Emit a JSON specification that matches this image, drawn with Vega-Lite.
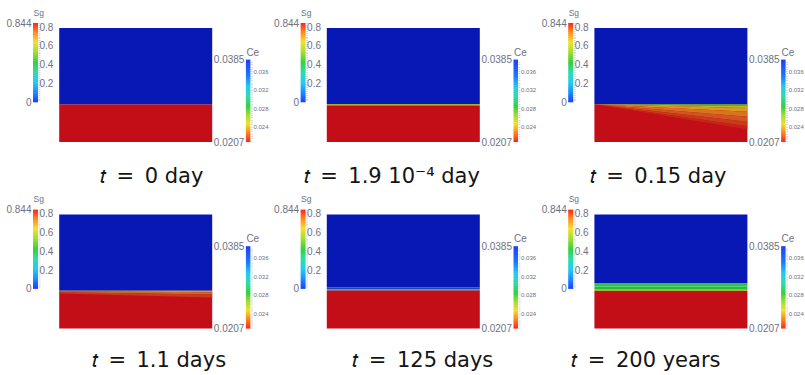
{
"$schema": "https://vega.github.io/schema/vega-lite/v6.json",
"padding": {"left": 4, "top": 8, "right": 0, "bottom": 0},
"config": {
  "view": {"stroke": null},
  "font": "Liberation Sans",
  "axis": {"labelColor": "#6e7182", "titleColor": "#6e7182", "labelFont": "Liberation Sans", "titleFont": "Liberation Sans", "titleFontWeight": "normal", "labelOverlap": false, "labelFlush": false, "labelBound": false, "grid": false, "domain": false},
  "title": {"orient": "bottom", "anchor": "middle", "baseline": "alphabetic", "fontSize": 21, "font": "DejaVu Sans", "fontWeight": "normal", "color": "#141414"}
},
"datasets": {
  "sg": [{"lo": 0, "hi": 0.844}],
  "ce": [{"lo": 0.0207, "hi": 0.0385}],
  "cells": [
    {"p":1,"s":"gas","x0":0,"x1":1,"y0":0,"y1":0.332},
    {"p":1,"s":"brine","x0":0,"x1":1,"y0":0.332,"y1":1},
    {"p":2,"s":"gas","x0":0,"x1":1,"y0":0,"y1":0.323},
    {"p":2,"s":"p2line","x0":0,"x1":1,"y0":0.323,"y1":0.333},
    {"p":2,"s":"brine","x0":0,"x1":1,"y0":0.333,"y1":1},
    {"p":3,"s":"gas","x0":0,"x1":1,"y0":0,"y1":0.332},
    {"p":3,"s":"brine","x0":0,"x1":1,"y0":0.332,"y1":1},
    {"p":4,"s":"gas","x0":0,"x1":1,"y0":0,"y1":0.333},
    {"p":4,"s":"brine","x0":0,"x1":1,"y0":0.333,"y1":1},
    {"p":5,"s":"gas","x0":0,"x1":1,"y0":0,"y1":0.336},
    {"p":5,"s":"p5line","x0":0,"x1":1,"y0":0.336,"y1":0.345},
    {"p":5,"s":"p5blue","x0":0,"x1":1,"y0":0.345,"y1":0.36},
    {"p":5,"s":"brine","x0":0,"x1":1,"y0":0.36,"y1":1},
    {"p":6,"s":"gas","x0":0,"x1":1,"y0":0,"y1":0.33},
    {"p":6,"s":"p6line","x0":0,"x1":1,"y0":0.33,"y1":0.342},
    {"p":6,"s":"p6g2","x0":0,"x1":1,"y0":0.342,"y1":0.37},
    {"p":6,"s":"p6g1","x0":0,"x1":1,"y0":0.37,"y1":0.397},
    {"p":6,"s":"brine","x0":0,"x1":1,"y0":0.397,"y1":1}
  ],
  "bands": [
    {"p":3,"s":"b31","x":0,"ya":0.332,"yb":0.332},{"p":3,"s":"b31","x":1,"ya":0.332,"yb":0.3166},
    {"p":3,"s":"b32","x":0,"ya":0.332,"yb":0.332},{"p":3,"s":"b32","x":1,"ya":0.3166,"yb":0.299},
    {"p":3,"s":"b33","x":0,"ya":0.332,"yb":0.332},{"p":3,"s":"b33","x":1,"ya":0.299,"yb":0.266},
    {"p":3,"s":"b34","x":0,"ya":0.332,"yb":0.332},{"p":3,"s":"b34","x":1,"ya":0.266,"yb":0.222},
    {"p":3,"s":"b35","x":0,"ya":0.332,"yb":0.332},{"p":3,"s":"b35","x":1,"ya":0.222,"yb":0.178},
    {"p":3,"s":"b36","x":0,"ya":0.332,"yb":0.332},{"p":3,"s":"b36","x":1,"ya":0.178,"yb":0.1384},
    {"p":3,"s":"b37","x":0,"ya":0.332,"yb":0.332},{"p":3,"s":"b37","x":1,"ya":0.1384,"yb":0.112},
    {"p":4,"s":"b41","x":0,"ya":0.333,"yb":0.327},{"p":4,"s":"b41","x":1,"ya":0.333,"yb":0.318},
    {"p":4,"s":"b42","x":0,"ya":0.327,"yb":0.319},{"p":4,"s":"b42","x":1,"ya":0.318,"yb":0.3},
    {"p":4,"s":"b43","x":0,"ya":0.319,"yb":0.308},{"p":4,"s":"b43","x":1,"ya":0.3,"yb":0.273}
  ]
},
"columns": 9,
"spacing": {"row": 67.6, "column": 21.2},
"bounds": "flush",
"align": "each",
"concat": [
  {"width":34,"height":119,"data":{"name":"sg"},"layer":[
    {"mark":{"type":"rect","fill":{"gradient":"linear","x1":0,"y1":1,"x2":0,"y2":0,"stops":[{"offset":0,"color":"#1e3cff"},{"offset":0.12,"color":"#1a8cff"},{"offset":0.25,"color":"#22ccf2"},{"offset":0.38,"color":"#2edca8"},{"offset":0.5,"color":"#35d040"},{"offset":0.64,"color":"#a8de30"},{"offset":0.76,"color":"#f2e22a"},{"offset":0.88,"color":"#ff8e1e"},{"offset":1,"color":"#ff2418"}]}},
     "encoding":{"x":{"datum":0,"type":"quantitative","scale":{"domain":[-5.8,1],"nice":false,"zero":false},"axis":null},"x2":{"datum":1},"y":{"field":"lo","type":"quantitative","scale":{"domain":[-0.4226,0.844],"nice":false,"zero":false},"axis":{"orient":"left","offset":-29,"values":[0,0.844],"format":".3~f","ticks":false,"labelPadding":2,"labelFontSize":10,"title":"Sg","titleAngle":0,"titleX":0,"titleY":-7.7,"titleAlign":"left","titleBaseline":"alphabetic","titleFontSize":8.5}},"y2":{"field":"hi"}}},
    {"mark":{"type":"rect","opacity":0},
     "encoding":{"x":{"datum":0,"type":"quantitative","axis":null},"x2":{"datum":1},"y":{"field":"lo","type":"quantitative","axis":{"orient":"right","values":[0.02,0.04,0.06,0.08,0.1,0.12,0.14,0.16,0.18,0.2,0.22,0.24,0.26,0.28,0.3,0.32,0.34,0.36,0.38,0.4,0.42,0.44,0.46,0.48,0.5,0.52,0.54,0.56,0.58,0.6,0.62,0.64,0.66,0.68,0.7,0.72,0.74,0.76,0.78,0.8,0.82,0.84],"labelExpr":"abs(datum.value*5-round(datum.value*5))<0.001 ? format(datum.value,'.1f') : ''","tickSize":2,"tickColor":"#c4c6d0","tickWidth":0.7,"labelPadding":-1,"labelFontSize":10,"title":null}},"y2":{"field":"hi"}}}
  ],"resolve":{"axis":{"y":"independent"}}},
  {"width":153,"height":119,
   "title":{"text":"𝑡\u2002=\u20020 day","dx":16,"offset":24.3},
   "layer":[
    {"data":{"name":"cells"},"transform":[{"filter":"datum.p==1"}],"mark":{"type":"rect"},
     "encoding":{"x":{"field":"x0","type":"quantitative","scale":{"domain":[0,1],"nice":false,"zero":false},"axis":null},"x2":{"field":"x1"},"y":{"field":"y0","type":"quantitative","scale":{"domain":[0,1.0439],"nice":false,"zero":false},"axis":null},"y2":{"field":"y1"},
      "color":{"field":"s","type":"nominal","legend":null,"scale":{"domain":["gas","brine","p2line","p5line","p5blue","p6line","p6g2","p6g1","b31","b32","b33","b34","b35","b36","b37","b41","b42","b43"],"range":["#c30d17","#0818b4","#a6b02c","#2fa88c","#1a46c6","#a2b428","#22bb3a","#2cc64a","#4cb82e","#bcb828","#d89a24","#d87420","#d05520","#c93a1c","#c52518","#c8a028","#d06a20","#c83a1a"]}}}}
   ]},
  {"width":17,"height":119,"data":{"name":"ce"},"layer":[
    {"mark":{"type":"rect","fill":{"gradient":"linear","x1":0,"y1":1,"x2":0,"y2":0,"stops":[{"offset":0,"color":"#ff2418"},{"offset":0.1,"color":"#ff7a1e"},{"offset":0.22,"color":"#f2e02a"},{"offset":0.32,"color":"#a8de30"},{"offset":0.43,"color":"#35d040"},{"offset":0.55,"color":"#2edca8"},{"offset":0.67,"color":"#22ccf2"},{"offset":0.8,"color":"#1a7cff"},{"offset":1,"color":"#1e3cff"}]}},
     "encoding":{"x":{"datum":0,"type":"quantitative","scale":{"domain":[-2.778,1],"nice":false,"zero":false},"axis":null},"x2":{"datum":1},"y":{"field":"lo","type":"quantitative","scale":{"domain":[0.0207,0.0464],"nice":false,"zero":false},"axis":{"orient":"left","offset":-12.5,"values":[0.0207,0.0385],"format":".4f","ticks":false,"labelPadding":2,"labelFontSize":10,"title":"Ce","titleAngle":0,"titleX":0,"titleY":32.3,"titleAlign":"left","titleBaseline":"alphabetic","titleFontSize":10}},"y2":{"field":"hi"}}},
    {"mark":{"type":"rect","opacity":0},
     "encoding":{"x":{"datum":0,"type":"quantitative","axis":null},"x2":{"datum":1},"y":{"field":"lo","type":"quantitative","axis":{"orient":"right","values":[0.021,0.0215,0.022,0.0225,0.023,0.0235,0.024,0.0245,0.025,0.0255,0.026,0.0265,0.027,0.0275,0.028,0.0285,0.029,0.0295,0.03,0.0305,0.031,0.0315,0.032,0.0325,0.033,0.0335,0.034,0.0345,0.035,0.0355,0.036,0.0365,0.037,0.0375,0.038],"labelExpr":"abs(datum.value*250-round(datum.value*250))<0.01 ? format(datum.value,'.3f') : ''","tickSize":2,"tickColor":"#c4c6d0","tickWidth":0.7,"labelPadding":0.6,"labelFontSize":6,"title":null}},"y2":{"field":"hi"}}}
  ],"resolve":{"axis":{"y":"independent"}}},

  {"width":34,"height":119,"data":{"name":"sg"},"layer":[
    {"mark":{"type":"rect","fill":{"gradient":"linear","x1":0,"y1":1,"x2":0,"y2":0,"stops":[{"offset":0,"color":"#1e3cff"},{"offset":0.12,"color":"#1a8cff"},{"offset":0.25,"color":"#22ccf2"},{"offset":0.38,"color":"#2edca8"},{"offset":0.5,"color":"#35d040"},{"offset":0.64,"color":"#a8de30"},{"offset":0.76,"color":"#f2e22a"},{"offset":0.88,"color":"#ff8e1e"},{"offset":1,"color":"#ff2418"}]}},
     "encoding":{"x":{"datum":0,"type":"quantitative","scale":{"domain":[-5.8,1],"nice":false,"zero":false},"axis":null},"x2":{"datum":1},"y":{"field":"lo","type":"quantitative","scale":{"domain":[-0.4226,0.844],"nice":false,"zero":false},"axis":{"orient":"left","offset":-29,"values":[0,0.844],"format":".3~f","ticks":false,"labelPadding":2,"labelFontSize":10,"title":"Sg","titleAngle":0,"titleX":0,"titleY":-7.7,"titleAlign":"left","titleBaseline":"alphabetic","titleFontSize":8.5}},"y2":{"field":"hi"}}},
    {"mark":{"type":"rect","opacity":0},
     "encoding":{"x":{"datum":0,"type":"quantitative","axis":null},"x2":{"datum":1},"y":{"field":"lo","type":"quantitative","axis":{"orient":"right","values":[0.02,0.04,0.06,0.08,0.1,0.12,0.14,0.16,0.18,0.2,0.22,0.24,0.26,0.28,0.3,0.32,0.34,0.36,0.38,0.4,0.42,0.44,0.46,0.48,0.5,0.52,0.54,0.56,0.58,0.6,0.62,0.64,0.66,0.68,0.7,0.72,0.74,0.76,0.78,0.8,0.82,0.84],"labelExpr":"abs(datum.value*5-round(datum.value*5))<0.001 ? format(datum.value,'.1f') : ''","tickSize":2,"tickColor":"#c4c6d0","tickWidth":0.7,"labelPadding":-1,"labelFontSize":10,"title":null}},"y2":{"field":"hi"}}}
  ],"resolve":{"axis":{"y":"independent"}}},
  {"width":153,"height":119,
   "title":{"text":"𝑡\u2002=\u20021.9 10⁻⁴ day","dx":-11.5,"offset":24.3},
   "layer":[
    {"data":{"name":"cells"},"transform":[{"filter":"datum.p==2"}],"mark":{"type":"rect"},
     "encoding":{"x":{"field":"x0","type":"quantitative","scale":{"domain":[0,1],"nice":false,"zero":false},"axis":null},"x2":{"field":"x1"},"y":{"field":"y0","type":"quantitative","scale":{"domain":[0,1.0439],"nice":false,"zero":false},"axis":null},"y2":{"field":"y1"},
      "color":{"field":"s","type":"nominal","legend":null,"scale":{"domain":["gas","brine","p2line","p5line","p5blue","p6line","p6g2","p6g1","b31","b32","b33","b34","b35","b36","b37","b41","b42","b43"],"range":["#c30d17","#0818b4","#a6b02c","#2fa88c","#1a46c6","#a2b428","#22bb3a","#2cc64a","#4cb82e","#bcb828","#d89a24","#d87420","#d05520","#c93a1c","#c52518","#c8a028","#d06a20","#c83a1a"]}}}}
   ]},
  {"width":17,"height":119,"data":{"name":"ce"},"layer":[
    {"mark":{"type":"rect","fill":{"gradient":"linear","x1":0,"y1":1,"x2":0,"y2":0,"stops":[{"offset":0,"color":"#ff2418"},{"offset":0.1,"color":"#ff7a1e"},{"offset":0.22,"color":"#f2e02a"},{"offset":0.32,"color":"#a8de30"},{"offset":0.43,"color":"#35d040"},{"offset":0.55,"color":"#2edca8"},{"offset":0.67,"color":"#22ccf2"},{"offset":0.8,"color":"#1a7cff"},{"offset":1,"color":"#1e3cff"}]}},
     "encoding":{"x":{"datum":0,"type":"quantitative","scale":{"domain":[-2.778,1],"nice":false,"zero":false},"axis":null},"x2":{"datum":1},"y":{"field":"lo","type":"quantitative","scale":{"domain":[0.0207,0.0464],"nice":false,"zero":false},"axis":{"orient":"left","offset":-12.5,"values":[0.0207,0.0385],"format":".4f","ticks":false,"labelPadding":2,"labelFontSize":10,"title":"Ce","titleAngle":0,"titleX":0,"titleY":32.3,"titleAlign":"left","titleBaseline":"alphabetic","titleFontSize":10}},"y2":{"field":"hi"}}},
    {"mark":{"type":"rect","opacity":0},
     "encoding":{"x":{"datum":0,"type":"quantitative","axis":null},"x2":{"datum":1},"y":{"field":"lo","type":"quantitative","axis":{"orient":"right","values":[0.021,0.0215,0.022,0.0225,0.023,0.0235,0.024,0.0245,0.025,0.0255,0.026,0.0265,0.027,0.0275,0.028,0.0285,0.029,0.0295,0.03,0.0305,0.031,0.0315,0.032,0.0325,0.033,0.0335,0.034,0.0345,0.035,0.0355,0.036,0.0365,0.037,0.0375,0.038],"labelExpr":"abs(datum.value*250-round(datum.value*250))<0.01 ? format(datum.value,'.3f') : ''","tickSize":2,"tickColor":"#c4c6d0","tickWidth":0.7,"labelPadding":0.6,"labelFontSize":6,"title":null}},"y2":{"field":"hi"}}}
  ],"resolve":{"axis":{"y":"independent"}}},

  {"width":34,"height":119,"data":{"name":"sg"},"layer":[
    {"mark":{"type":"rect","fill":{"gradient":"linear","x1":0,"y1":1,"x2":0,"y2":0,"stops":[{"offset":0,"color":"#1e3cff"},{"offset":0.12,"color":"#1a8cff"},{"offset":0.25,"color":"#22ccf2"},{"offset":0.38,"color":"#2edca8"},{"offset":0.5,"color":"#35d040"},{"offset":0.64,"color":"#a8de30"},{"offset":0.76,"color":"#f2e22a"},{"offset":0.88,"color":"#ff8e1e"},{"offset":1,"color":"#ff2418"}]}},
     "encoding":{"x":{"datum":0,"type":"quantitative","scale":{"domain":[-5.8,1],"nice":false,"zero":false},"axis":null},"x2":{"datum":1},"y":{"field":"lo","type":"quantitative","scale":{"domain":[-0.4226,0.844],"nice":false,"zero":false},"axis":{"orient":"left","offset":-29,"values":[0,0.844],"format":".3~f","ticks":false,"labelPadding":2,"labelFontSize":10,"title":"Sg","titleAngle":0,"titleX":0,"titleY":-7.7,"titleAlign":"left","titleBaseline":"alphabetic","titleFontSize":8.5}},"y2":{"field":"hi"}}},
    {"mark":{"type":"rect","opacity":0},
     "encoding":{"x":{"datum":0,"type":"quantitative","axis":null},"x2":{"datum":1},"y":{"field":"lo","type":"quantitative","axis":{"orient":"right","values":[0.02,0.04,0.06,0.08,0.1,0.12,0.14,0.16,0.18,0.2,0.22,0.24,0.26,0.28,0.3,0.32,0.34,0.36,0.38,0.4,0.42,0.44,0.46,0.48,0.5,0.52,0.54,0.56,0.58,0.6,0.62,0.64,0.66,0.68,0.7,0.72,0.74,0.76,0.78,0.8,0.82,0.84],"labelExpr":"abs(datum.value*5-round(datum.value*5))<0.001 ? format(datum.value,'.1f') : ''","tickSize":2,"tickColor":"#c4c6d0","tickWidth":0.7,"labelPadding":-1,"labelFontSize":10,"title":null}},"y2":{"field":"hi"}}}
  ],"resolve":{"axis":{"y":"independent"}}},
  {"width":153,"height":119,
   "title":{"text":"𝑡\u2002=\u20020.15 day","dx":-12.8,"offset":24.3},
   "layer":[
    {"data":{"name":"cells"},"transform":[{"filter":"datum.p==3"}],"mark":{"type":"rect"},
     "encoding":{"x":{"field":"x0","type":"quantitative","scale":{"domain":[0,1],"nice":false,"zero":false},"axis":null},"x2":{"field":"x1"},"y":{"field":"y0","type":"quantitative","scale":{"domain":[0,1.0439],"nice":false,"zero":false},"axis":null},"y2":{"field":"y1"},
      "color":{"field":"s","type":"nominal","legend":null,"scale":{"domain":["gas","brine","p2line","p5line","p5blue","p6line","p6g2","p6g1","b31","b32","b33","b34","b35","b36","b37","b41","b42","b43"],"range":["#c30d17","#0818b4","#a6b02c","#2fa88c","#1a46c6","#a2b428","#22bb3a","#2cc64a","#4cb82e","#bcb828","#d89a24","#d87420","#d05520","#c93a1c","#c52518","#c8a028","#d06a20","#c83a1a"]}}}},
    {"data":{"name":"bands"},"transform":[{"filter":"datum.p==3"}],"mark":{"type":"area","opacity":1},
     "encoding":{"x":{"field":"x","type":"quantitative","axis":null},"y":{"field":"ya","type":"quantitative","axis":null,"stack":null},"y2":{"field":"yb"},
      "color":{"field":"s","type":"nominal","legend":null,"scale":{"domain":["gas","brine","p2line","p5line","p5blue","p6line","p6g2","p6g1","b31","b32","b33","b34","b35","b36","b37","b41","b42","b43"],"range":["#c30d17","#0818b4","#a6b02c","#2fa88c","#1a46c6","#a2b428","#22bb3a","#2cc64a","#4cb82e","#bcb828","#d89a24","#d87420","#d05520","#c93a1c","#c52518","#c8a028","#d06a20","#c83a1a"]}}}}
   ]},
  {"width":17,"height":119,"data":{"name":"ce"},"layer":[
    {"mark":{"type":"rect","fill":{"gradient":"linear","x1":0,"y1":1,"x2":0,"y2":0,"stops":[{"offset":0,"color":"#ff2418"},{"offset":0.1,"color":"#ff7a1e"},{"offset":0.22,"color":"#f2e02a"},{"offset":0.32,"color":"#a8de30"},{"offset":0.43,"color":"#35d040"},{"offset":0.55,"color":"#2edca8"},{"offset":0.67,"color":"#22ccf2"},{"offset":0.8,"color":"#1a7cff"},{"offset":1,"color":"#1e3cff"}]}},
     "encoding":{"x":{"datum":0,"type":"quantitative","scale":{"domain":[-2.778,1],"nice":false,"zero":false},"axis":null},"x2":{"datum":1},"y":{"field":"lo","type":"quantitative","scale":{"domain":[0.0207,0.0464],"nice":false,"zero":false},"axis":{"orient":"left","offset":-12.5,"values":[0.0207,0.0385],"format":".4f","ticks":false,"labelPadding":2,"labelFontSize":10,"title":"Ce","titleAngle":0,"titleX":0,"titleY":32.3,"titleAlign":"left","titleBaseline":"alphabetic","titleFontSize":10}},"y2":{"field":"hi"}}},
    {"mark":{"type":"rect","opacity":0},
     "encoding":{"x":{"datum":0,"type":"quantitative","axis":null},"x2":{"datum":1},"y":{"field":"lo","type":"quantitative","axis":{"orient":"right","values":[0.021,0.0215,0.022,0.0225,0.023,0.0235,0.024,0.0245,0.025,0.0255,0.026,0.0265,0.027,0.0275,0.028,0.0285,0.029,0.0295,0.03,0.0305,0.031,0.0315,0.032,0.0325,0.033,0.0335,0.034,0.0345,0.035,0.0355,0.036,0.0365,0.037,0.0375,0.038],"labelExpr":"abs(datum.value*250-round(datum.value*250))<0.01 ? format(datum.value,'.3f') : ''","tickSize":2,"tickColor":"#c4c6d0","tickWidth":0.7,"labelPadding":0.6,"labelFontSize":6,"title":null}},"y2":{"field":"hi"}}}
  ],"resolve":{"axis":{"y":"independent"}}},

  {"width":34,"height":119,"data":{"name":"sg"},"layer":[
    {"mark":{"type":"rect","fill":{"gradient":"linear","x1":0,"y1":1,"x2":0,"y2":0,"stops":[{"offset":0,"color":"#1e3cff"},{"offset":0.12,"color":"#1a8cff"},{"offset":0.25,"color":"#22ccf2"},{"offset":0.38,"color":"#2edca8"},{"offset":0.5,"color":"#35d040"},{"offset":0.64,"color":"#a8de30"},{"offset":0.76,"color":"#f2e22a"},{"offset":0.88,"color":"#ff8e1e"},{"offset":1,"color":"#ff2418"}]}},
     "encoding":{"x":{"datum":0,"type":"quantitative","scale":{"domain":[-5.8,1],"nice":false,"zero":false},"axis":null},"x2":{"datum":1},"y":{"field":"lo","type":"quantitative","scale":{"domain":[-0.4226,0.844],"nice":false,"zero":false},"axis":{"orient":"left","offset":-29,"values":[0,0.844],"format":".3~f","ticks":false,"labelPadding":2,"labelFontSize":10,"title":"Sg","titleAngle":0,"titleX":0,"titleY":-7.7,"titleAlign":"left","titleBaseline":"alphabetic","titleFontSize":8.5}},"y2":{"field":"hi"}}},
    {"mark":{"type":"rect","opacity":0},
     "encoding":{"x":{"datum":0,"type":"quantitative","axis":null},"x2":{"datum":1},"y":{"field":"lo","type":"quantitative","axis":{"orient":"right","values":[0.02,0.04,0.06,0.08,0.1,0.12,0.14,0.16,0.18,0.2,0.22,0.24,0.26,0.28,0.3,0.32,0.34,0.36,0.38,0.4,0.42,0.44,0.46,0.48,0.5,0.52,0.54,0.56,0.58,0.6,0.62,0.64,0.66,0.68,0.7,0.72,0.74,0.76,0.78,0.8,0.82,0.84],"labelExpr":"abs(datum.value*5-round(datum.value*5))<0.001 ? format(datum.value,'.1f') : ''","tickSize":2,"tickColor":"#c4c6d0","tickWidth":0.7,"labelPadding":-1,"labelFontSize":10,"title":null}},"y2":{"field":"hi"}}}
  ],"resolve":{"axis":{"y":"independent"}}},
  {"width":153,"height":119,
   "title":{"text":"𝑡\u2002=\u20021.1 days","dx":23.3,"offset":21.4},
   "layer":[
    {"data":{"name":"cells"},"transform":[{"filter":"datum.p==4"}],"mark":{"type":"rect"},
     "encoding":{"x":{"field":"x0","type":"quantitative","scale":{"domain":[0,1],"nice":false,"zero":false},"axis":null},"x2":{"field":"x1"},"y":{"field":"y0","type":"quantitative","scale":{"domain":[0,1.0439],"nice":false,"zero":false},"axis":null},"y2":{"field":"y1"},
      "color":{"field":"s","type":"nominal","legend":null,"scale":{"domain":["gas","brine","p2line","p5line","p5blue","p6line","p6g2","p6g1","b31","b32","b33","b34","b35","b36","b37","b41","b42","b43"],"range":["#c30d17","#0818b4","#a6b02c","#2fa88c","#1a46c6","#a2b428","#22bb3a","#2cc64a","#4cb82e","#bcb828","#d89a24","#d87420","#d05520","#c93a1c","#c52518","#c8a028","#d06a20","#c83a1a"]}}}},
    {"data":{"name":"bands"},"transform":[{"filter":"datum.p==4"}],"mark":{"type":"area","opacity":1},
     "encoding":{"x":{"field":"x","type":"quantitative","axis":null},"y":{"field":"ya","type":"quantitative","axis":null,"stack":null},"y2":{"field":"yb"},
      "color":{"field":"s","type":"nominal","legend":null,"scale":{"domain":["gas","brine","p2line","p5line","p5blue","p6line","p6g2","p6g1","b31","b32","b33","b34","b35","b36","b37","b41","b42","b43"],"range":["#c30d17","#0818b4","#a6b02c","#2fa88c","#1a46c6","#a2b428","#22bb3a","#2cc64a","#4cb82e","#bcb828","#d89a24","#d87420","#d05520","#c93a1c","#c52518","#c8a028","#d06a20","#c83a1a"]}}}}
   ]},
  {"width":17,"height":119,"data":{"name":"ce"},"layer":[
    {"mark":{"type":"rect","fill":{"gradient":"linear","x1":0,"y1":1,"x2":0,"y2":0,"stops":[{"offset":0,"color":"#ff2418"},{"offset":0.1,"color":"#ff7a1e"},{"offset":0.22,"color":"#f2e02a"},{"offset":0.32,"color":"#a8de30"},{"offset":0.43,"color":"#35d040"},{"offset":0.55,"color":"#2edca8"},{"offset":0.67,"color":"#22ccf2"},{"offset":0.8,"color":"#1a7cff"},{"offset":1,"color":"#1e3cff"}]}},
     "encoding":{"x":{"datum":0,"type":"quantitative","scale":{"domain":[-2.778,1],"nice":false,"zero":false},"axis":null},"x2":{"datum":1},"y":{"field":"lo","type":"quantitative","scale":{"domain":[0.0207,0.0464],"nice":false,"zero":false},"axis":{"orient":"left","offset":-12.5,"values":[0.0207,0.0385],"format":".4f","ticks":false,"labelPadding":2,"labelFontSize":10,"title":"Ce","titleAngle":0,"titleX":0,"titleY":32.3,"titleAlign":"left","titleBaseline":"alphabetic","titleFontSize":10}},"y2":{"field":"hi"}}},
    {"mark":{"type":"rect","opacity":0},
     "encoding":{"x":{"datum":0,"type":"quantitative","axis":null},"x2":{"datum":1},"y":{"field":"lo","type":"quantitative","axis":{"orient":"right","values":[0.021,0.0215,0.022,0.0225,0.023,0.0235,0.024,0.0245,0.025,0.0255,0.026,0.0265,0.027,0.0275,0.028,0.0285,0.029,0.0295,0.03,0.0305,0.031,0.0315,0.032,0.0325,0.033,0.0335,0.034,0.0345,0.035,0.0355,0.036,0.0365,0.037,0.0375,0.038],"labelExpr":"abs(datum.value*250-round(datum.value*250))<0.01 ? format(datum.value,'.3f') : ''","tickSize":2,"tickColor":"#c4c6d0","tickWidth":0.7,"labelPadding":0.6,"labelFontSize":6,"title":null}},"y2":{"field":"hi"}}}
  ],"resolve":{"axis":{"y":"independent"}}},

  {"width":34,"height":119,"data":{"name":"sg"},"layer":[
    {"mark":{"type":"rect","fill":{"gradient":"linear","x1":0,"y1":1,"x2":0,"y2":0,"stops":[{"offset":0,"color":"#1e3cff"},{"offset":0.12,"color":"#1a8cff"},{"offset":0.25,"color":"#22ccf2"},{"offset":0.38,"color":"#2edca8"},{"offset":0.5,"color":"#35d040"},{"offset":0.64,"color":"#a8de30"},{"offset":0.76,"color":"#f2e22a"},{"offset":0.88,"color":"#ff8e1e"},{"offset":1,"color":"#ff2418"}]}},
     "encoding":{"x":{"datum":0,"type":"quantitative","scale":{"domain":[-5.8,1],"nice":false,"zero":false},"axis":null},"x2":{"datum":1},"y":{"field":"lo","type":"quantitative","scale":{"domain":[-0.4226,0.844],"nice":false,"zero":false},"axis":{"orient":"left","offset":-29,"values":[0,0.844],"format":".3~f","ticks":false,"labelPadding":2,"labelFontSize":10,"title":"Sg","titleAngle":0,"titleX":0,"titleY":-7.7,"titleAlign":"left","titleBaseline":"alphabetic","titleFontSize":8.5}},"y2":{"field":"hi"}}},
    {"mark":{"type":"rect","opacity":0},
     "encoding":{"x":{"datum":0,"type":"quantitative","axis":null},"x2":{"datum":1},"y":{"field":"lo","type":"quantitative","axis":{"orient":"right","values":[0.02,0.04,0.06,0.08,0.1,0.12,0.14,0.16,0.18,0.2,0.22,0.24,0.26,0.28,0.3,0.32,0.34,0.36,0.38,0.4,0.42,0.44,0.46,0.48,0.5,0.52,0.54,0.56,0.58,0.6,0.62,0.64,0.66,0.68,0.7,0.72,0.74,0.76,0.78,0.8,0.82,0.84],"labelExpr":"abs(datum.value*5-round(datum.value*5))<0.001 ? format(datum.value,'.1f') : ''","tickSize":2,"tickColor":"#c4c6d0","tickWidth":0.7,"labelPadding":-1,"labelFontSize":10,"title":null}},"y2":{"field":"hi"}}}
  ],"resolve":{"axis":{"y":"independent"}}},
  {"width":153,"height":119,
   "title":{"text":"𝑡\u2002=\u2002125 days","dx":19.5,"offset":21.4},
   "layer":[
    {"data":{"name":"cells"},"transform":[{"filter":"datum.p==5"}],"mark":{"type":"rect"},
     "encoding":{"x":{"field":"x0","type":"quantitative","scale":{"domain":[0,1],"nice":false,"zero":false},"axis":null},"x2":{"field":"x1"},"y":{"field":"y0","type":"quantitative","scale":{"domain":[0,1.0439],"nice":false,"zero":false},"axis":null},"y2":{"field":"y1"},
      "color":{"field":"s","type":"nominal","legend":null,"scale":{"domain":["gas","brine","p2line","p5line","p5blue","p6line","p6g2","p6g1","b31","b32","b33","b34","b35","b36","b37","b41","b42","b43"],"range":["#c30d17","#0818b4","#a6b02c","#2fa88c","#1a46c6","#a2b428","#22bb3a","#2cc64a","#4cb82e","#bcb828","#d89a24","#d87420","#d05520","#c93a1c","#c52518","#c8a028","#d06a20","#c83a1a"]}}}}
   ]},
  {"width":17,"height":119,"data":{"name":"ce"},"layer":[
    {"mark":{"type":"rect","fill":{"gradient":"linear","x1":0,"y1":1,"x2":0,"y2":0,"stops":[{"offset":0,"color":"#ff2418"},{"offset":0.1,"color":"#ff7a1e"},{"offset":0.22,"color":"#f2e02a"},{"offset":0.32,"color":"#a8de30"},{"offset":0.43,"color":"#35d040"},{"offset":0.55,"color":"#2edca8"},{"offset":0.67,"color":"#22ccf2"},{"offset":0.8,"color":"#1a7cff"},{"offset":1,"color":"#1e3cff"}]}},
     "encoding":{"x":{"datum":0,"type":"quantitative","scale":{"domain":[-2.778,1],"nice":false,"zero":false},"axis":null},"x2":{"datum":1},"y":{"field":"lo","type":"quantitative","scale":{"domain":[0.0207,0.0464],"nice":false,"zero":false},"axis":{"orient":"left","offset":-12.5,"values":[0.0207,0.0385],"format":".4f","ticks":false,"labelPadding":2,"labelFontSize":10,"title":"Ce","titleAngle":0,"titleX":0,"titleY":32.3,"titleAlign":"left","titleBaseline":"alphabetic","titleFontSize":10}},"y2":{"field":"hi"}}},
    {"mark":{"type":"rect","opacity":0},
     "encoding":{"x":{"datum":0,"type":"quantitative","axis":null},"x2":{"datum":1},"y":{"field":"lo","type":"quantitative","axis":{"orient":"right","values":[0.021,0.0215,0.022,0.0225,0.023,0.0235,0.024,0.0245,0.025,0.0255,0.026,0.0265,0.027,0.0275,0.028,0.0285,0.029,0.0295,0.03,0.0305,0.031,0.0315,0.032,0.0325,0.033,0.0335,0.034,0.0345,0.035,0.0355,0.036,0.0365,0.037,0.0375,0.038],"labelExpr":"abs(datum.value*250-round(datum.value*250))<0.01 ? format(datum.value,'.3f') : ''","tickSize":2,"tickColor":"#c4c6d0","tickWidth":0.7,"labelPadding":0.6,"labelFontSize":6,"title":null}},"y2":{"field":"hi"}}}
  ],"resolve":{"axis":{"y":"independent"}}},

  {"width":34,"height":119,"data":{"name":"sg"},"layer":[
    {"mark":{"type":"rect","fill":{"gradient":"linear","x1":0,"y1":1,"x2":0,"y2":0,"stops":[{"offset":0,"color":"#1e3cff"},{"offset":0.12,"color":"#1a8cff"},{"offset":0.25,"color":"#22ccf2"},{"offset":0.38,"color":"#2edca8"},{"offset":0.5,"color":"#35d040"},{"offset":0.64,"color":"#a8de30"},{"offset":0.76,"color":"#f2e22a"},{"offset":0.88,"color":"#ff8e1e"},{"offset":1,"color":"#ff2418"}]}},
     "encoding":{"x":{"datum":0,"type":"quantitative","scale":{"domain":[-5.8,1],"nice":false,"zero":false},"axis":null},"x2":{"datum":1},"y":{"field":"lo","type":"quantitative","scale":{"domain":[-0.4226,0.844],"nice":false,"zero":false},"axis":{"orient":"left","offset":-29,"values":[0,0.844],"format":".3~f","ticks":false,"labelPadding":2,"labelFontSize":10,"title":"Sg","titleAngle":0,"titleX":0,"titleY":-7.7,"titleAlign":"left","titleBaseline":"alphabetic","titleFontSize":8.5}},"y2":{"field":"hi"}}},
    {"mark":{"type":"rect","opacity":0},
     "encoding":{"x":{"datum":0,"type":"quantitative","axis":null},"x2":{"datum":1},"y":{"field":"lo","type":"quantitative","axis":{"orient":"right","values":[0.02,0.04,0.06,0.08,0.1,0.12,0.14,0.16,0.18,0.2,0.22,0.24,0.26,0.28,0.3,0.32,0.34,0.36,0.38,0.4,0.42,0.44,0.46,0.48,0.5,0.52,0.54,0.56,0.58,0.6,0.62,0.64,0.66,0.68,0.7,0.72,0.74,0.76,0.78,0.8,0.82,0.84],"labelExpr":"abs(datum.value*5-round(datum.value*5))<0.001 ? format(datum.value,'.1f') : ''","tickSize":2,"tickColor":"#c4c6d0","tickWidth":0.7,"labelPadding":-1,"labelFontSize":10,"title":null}},"y2":{"field":"hi"}}}
  ],"resolve":{"axis":{"y":"independent"}}},
  {"width":153,"height":119,
   "title":{"text":"𝑡\u2002=\u2002200 years","dx":-25,"offset":21.4},
   "layer":[
    {"data":{"name":"cells"},"transform":[{"filter":"datum.p==6"}],"mark":{"type":"rect"},
     "encoding":{"x":{"field":"x0","type":"quantitative","scale":{"domain":[0,1],"nice":false,"zero":false},"axis":null},"x2":{"field":"x1"},"y":{"field":"y0","type":"quantitative","scale":{"domain":[0,1.0439],"nice":false,"zero":false},"axis":null},"y2":{"field":"y1"},
      "color":{"field":"s","type":"nominal","legend":null,"scale":{"domain":["gas","brine","p2line","p5line","p5blue","p6line","p6g2","p6g1","b31","b32","b33","b34","b35","b36","b37","b41","b42","b43"],"range":["#c30d17","#0818b4","#a6b02c","#2fa88c","#1a46c6","#a2b428","#22bb3a","#2cc64a","#4cb82e","#bcb828","#d89a24","#d87420","#d05520","#c93a1c","#c52518","#c8a028","#d06a20","#c83a1a"]}}}}
   ]},
  {"width":17,"height":119,"data":{"name":"ce"},"layer":[
    {"mark":{"type":"rect","fill":{"gradient":"linear","x1":0,"y1":1,"x2":0,"y2":0,"stops":[{"offset":0,"color":"#ff2418"},{"offset":0.1,"color":"#ff7a1e"},{"offset":0.22,"color":"#f2e02a"},{"offset":0.32,"color":"#a8de30"},{"offset":0.43,"color":"#35d040"},{"offset":0.55,"color":"#2edca8"},{"offset":0.67,"color":"#22ccf2"},{"offset":0.8,"color":"#1a7cff"},{"offset":1,"color":"#1e3cff"}]}},
     "encoding":{"x":{"datum":0,"type":"quantitative","scale":{"domain":[-2.778,1],"nice":false,"zero":false},"axis":null},"x2":{"datum":1},"y":{"field":"lo","type":"quantitative","scale":{"domain":[0.0207,0.0464],"nice":false,"zero":false},"axis":{"orient":"left","offset":-12.5,"values":[0.0207,0.0385],"format":".4f","ticks":false,"labelPadding":2,"labelFontSize":10,"title":"Ce","titleAngle":0,"titleX":0,"titleY":32.3,"titleAlign":"left","titleBaseline":"alphabetic","titleFontSize":10}},"y2":{"field":"hi"}}},
    {"mark":{"type":"rect","opacity":0},
     "encoding":{"x":{"datum":0,"type":"quantitative","axis":null},"x2":{"datum":1},"y":{"field":"lo","type":"quantitative","axis":{"orient":"right","values":[0.021,0.0215,0.022,0.0225,0.023,0.0235,0.024,0.0245,0.025,0.0255,0.026,0.0265,0.027,0.0275,0.028,0.0285,0.029,0.0295,0.03,0.0305,0.031,0.0315,0.032,0.0325,0.033,0.0335,0.034,0.0345,0.035,0.0355,0.036,0.0365,0.037,0.0375,0.038],"labelExpr":"abs(datum.value*250-round(datum.value*250))<0.01 ? format(datum.value,'.3f') : ''","tickSize":2,"tickColor":"#c4c6d0","tickWidth":0.7,"labelPadding":0.6,"labelFontSize":6,"title":null}},"y2":{"field":"hi"}}}
  ],"resolve":{"axis":{"y":"independent"}}}
]
}
